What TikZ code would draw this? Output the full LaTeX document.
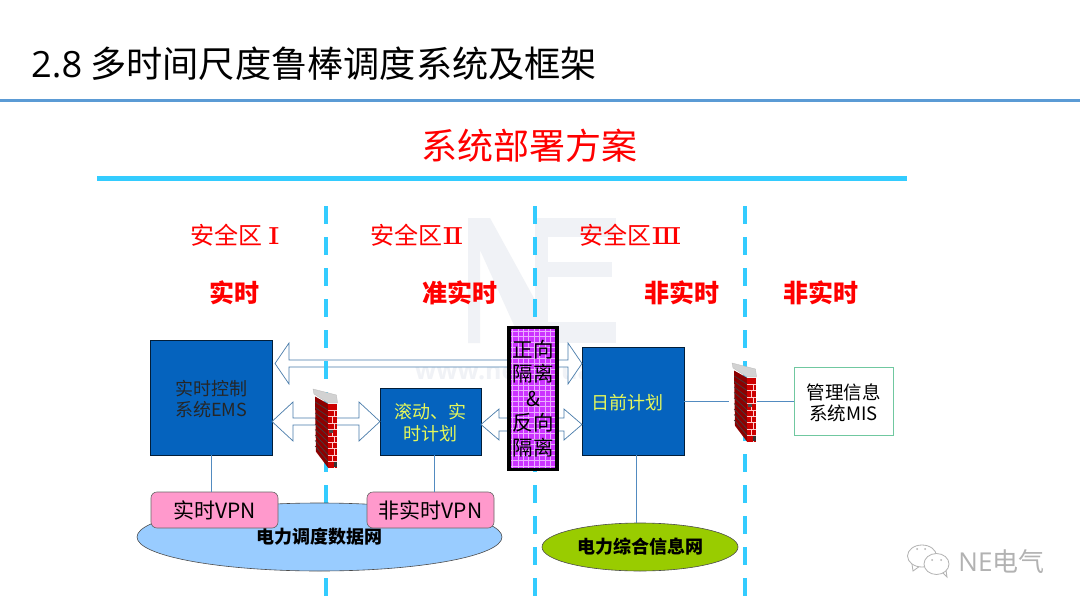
\documentclass[tikz,border=0pt]{standalone}
\usepackage{fontspec}
\setmainfont{Noto Sans CJK SC}
\newfontfamily\latinfont{Open Sans}
\newfontfamily\numeralfont{DejaVu Serif}
\usetikzlibrary{calc,shapes.geometric}
\definecolor{boxblue}{HTML}{0563BE}
\definecolor{zonecyan}{HTML}{33CCFF}
\definecolor{rulenavy}{HTML}{5B9BD5}
\definecolor{vpnpink}{HTML}{FF99CC}
\definecolor{netblue}{HTML}{99CCFF}
\definecolor{netgreen}{HTML}{99CC00}
\definecolor{isopurple}{HTML}{CC33FF}
\definecolor{planyellow}{HTML}{E6F85A}
\definecolor{misgreen}{HTML}{70C8A0}
\definecolor{markgray}{HTML}{F0F2F6}
\newcommand{\sized}[1]{\fontsize{#1}{#1}\selectfont}
\newcommand{\numeral}[1]{\scalebox{1.45}[1.05]{\numeralfont\sized{22}#1}}
\newcommand{\blockarrow}[5]{\draw[arrowline] let \p1=(#1), \p2=(#2) in (\x1,\y1) -- (\x1+#5,\y1+#4) -- (\x1+#5,\y1+#3) -- (\x2-#5,\y2+#3) -- (\x2-#5,\y2+#4) -- (\x2,\y2) -- (\x2-#5,\y2-#4) -- (\x2-#5,\y2-#3) -- (\x1+#5,\y1-#3) -- (\x1+#5,\y1-#4) -- cycle;}
\tikzset{
	box/.style={rectangle,inner sep=0pt,outer sep=0pt,align=center},
	bluebox/.style={box,fill=boxblue,draw=black!70!boxblue,line width=0.8pt},
	vpnbox/.style={box,rounded corners=6pt,fill=vpnpink,draw=black!60,line width=0.6pt,minimum width=127pt,minimum height=36pt,font=\sized{21}},
	netellipse/.style={ellipse,inner sep=0pt,outer sep=0pt,draw=black!70,line width=0.6pt,font=\sized{18}\bfseries},
	arrowline/.style={fill=white,draw=rulenavy!80!black,line width=0.7pt,line join=miter},
	linkline/.style={draw=rulenavy!90!black,line width=0.8pt},
	zoneline/.style={draw=zonecyan,line width=4pt,dash pattern=on 18pt off 13pt},
	zonetext/.style={anchor=west,inner sep=0pt,text=red,font=\sized{24}},
	modetext/.style={inner sep=0pt,text=red,font=\sized{25}\bfseries},
	bubbleline/.style={draw=gray!60,line width=0.8pt,fill=white},
	firewall/.pic={
		\fill[red!55!black] (2,8.5) -- (15.3,16) -- (15.3,80) -- (3,63.7) -- cycle;
		\fill[red!80!black] (15.3,16) -- (24.3,16) -- (24.3,80) -- (15.3,80) -- cycle;
		\foreach \i in {1,...,9}{
			\draw[black!75,line width=0.7pt] (2.2,8.5+\i*5.5) -- (15.3,16+\i*6.4);
			\draw[white!80!red,line width=0.7pt] (15.3,16+\i*6.4) -- (24.3,16+\i*6.4);
			\draw[white!80!red,line width=0.6pt] ({19.5+mod(\i,2)*2},16+\i*6.4) -- ({19.5+mod(\i,2)*2},22.4+\i*6.4);
		}
		\fill[black!80] (20.5,74) rectangle (24.3,79);
		\fill[black!70] (16,42) rectangle (20,45);
		\fill[gray!35,draw=gray!55,line width=0.3pt] (0,1) -- (23.5,7) -- (24.5,15) -- (15,15) -- (1,6) -- cycle;
	}
}
\begin{document}
\begin{tikzpicture}[x=1pt,y=-1pt]
	\useasboundingbox (0,0) rectangle (1080,608);
	\fill[white] (0,0) rectangle (1080,608);
	% watermark
	\fill[markgray] (468,343) -- (468,218) -- (490,218) -- (535,300) -- (535,343) -- (522,343) -- (480,250) -- (480,343) -- cycle;
	\fill[markgray] (535,218) rectangle (616,237);
	\fill[markgray] (535,262) rectangle (612,277);
	\fill[markgray] (535,322) rectangle (616,343);
	\fill[markgray] (535,218) rectangle (548,343);
	\node[inner sep=0pt,text=markgray,font=\latinfont\sized{25}\bfseries] (watermark) at (542,376) {www.nengyuan.com};
	% header
	\node[anchor=west,inner sep=0pt,font=\sized{36.2}] (title) at (31,64) {{\latinfont 2.8} 多时间尺度鲁棒调度系统及框架};
	\draw[rulenavy,line width=3pt] (0,100) -- (1080,100);
	\node[inner sep=0pt,text=red,font=\sized{36}] (subtitle) at (529,146) {系统部署方案};
	\draw[zonecyan,line width=5pt] (97,178.5) -- (907,178.5);
	\node[zonetext] (zonea) at (190,235) {安全区 \numeral{Ⅰ}};
	\node[zonetext] (zoneb) at (370,235) {安全区\numeral{Ⅱ}};
	\node[zonetext] (zonec) at (579,235) {安全区\numeral{Ⅲ}};
	\node[modetext] (modea) at (234.5,293) {实时};
	\node[modetext] (modeb) at (460,293) {准实时};
	\node[modetext] (modec) at (682,293) {非实时};
	\node[modetext] (moded) at (821,293) {非实时};
	% systems
	\node[bluebox,minimum width=122pt,minimum height=115pt,text=black!85,font=\sized{18}] (ems) at (211,397.5) {\rule{0pt}{19pt}实时控制\\[3pt]系统EMS};
	\node[bluebox,minimum width=101pt,minimum height=67pt,text=planyellow,font=\sized{18}] (rolling) at (430.5,421.5) {\rule{0pt}{17pt}滚动、实\\[4pt]时计划};
	\node[bluebox,minimum width=102pt,minimum height=108pt,text=planyellow,font=\sized{18}] (dayahead) at (633,401) {\hspace{-11pt}\rule{0pt}{19pt}日前计划};
	\node[box,draw=misgreen,line width=0.9pt,minimum width=99pt,minimum height=68pt,font=\sized{18.5}] (mis) at (843.5,401) {\rule{0pt}{19pt}管理信息\\[2pt]系统MIS};
	% block arrows
	\coordinate (topleft) at (275,363.5);
	\coordinate (topright) at (dayahead.west |- topleft);
	\coordinate (emsright) at (ems.east |- 0,421.5);
	\coordinate (rollingleft) at (rolling.west |- emsright);
	\coordinate (rollingright) at (rolling.east |- 0,424.5);
	\coordinate (dayleft) at (dayahead.west |- rollingright);
	\blockarrow{topleft}{topright}{3.5pt}{20.5pt}{14pt}
	\blockarrow{emsright}{rollingleft}{3.5pt}{19.5pt}{21pt}
	\blockarrow{rollingright}{dayleft}{6.5pt}{15.5pt}{18pt}
	% zones
	\draw[zoneline] (326,206) -- (326,600);
	\draw[zoneline] (535,206) -- (535,600);
	\draw[zoneline] (745,206) -- (745,600);
	% networks
	\node[netellipse,fill=netblue,minimum width=365pt,minimum height=68pt] (dispatchnet) at (319.5,537) {电力调度数据网};
	\node[netellipse,fill=netgreen,minimum width=196pt,minimum height=48pt] (infonet) at (640,547) {电力综合信息网};
	\node[vpnbox] (vpna) at (214.5,510) {实时VPN};
	\node[vpnbox] (vpnb) at (430.5,510) {非实时VPN};
	\draw[linkline] (ems.south) -- (ems.south |- vpna.north);
	\draw[linkline] ([xshift=3.5pt]rolling.south) -- ([xshift=3.5pt]vpnb.north);
	\draw[linkline] ([xshift=3.5pt]dayahead.south) -- ([xshift=3.5pt]dayahead.south |- infonet.north);
	% isolation
	\node[box,fill=isopurple,draw=black,line width=3.5pt,minimum width=48pt,minimum height=142pt,font=\sized{20.5},
		path picture={\draw[white!60!isopurple,line width=0.5pt,step=5.4pt] (path picture bounding box.south west) grid (path picture bounding box.north east);}] (isolation) at (533,398.5) {正向\\[4pt]隔离\\[4pt]\&\\[4pt]反向\\[4pt]隔离};
	% firewalls
	\pic (walla) at (313,388) {firewall};
	\pic (wallb) at (732,362) {firewall};
	\coordinate (wallin) at (729,401);
	\coordinate (wallout) at (757,401);
	\draw[linkline] (dayahead.east) -- (wallin);
	\draw[linkline] (wallout) -- (mis.west);
	% mark
	\draw[bubbleline] (912,564) -- (913,571) -- (920,566);
	\draw[bubbleline] (922,556) ellipse (14.5pt and 11pt);
	\draw[bubbleline] (942,572) -- (947,577) -- (946,570);
	\draw[bubbleline] (936.5,564) ellipse (12.5pt and 10.5pt);
	\fill[gray!60] (917,549) circle (1pt) (925,549) circle (1pt) (932,560) circle (1pt) (941,560) circle (1pt);
	\node[inner sep=0pt,text=gray!60,font=\latinfont\sized{26}] (marklabel) at (1001.5,562) {NE{\rmfamily 电气}};
\end{tikzpicture}
\end{document}
